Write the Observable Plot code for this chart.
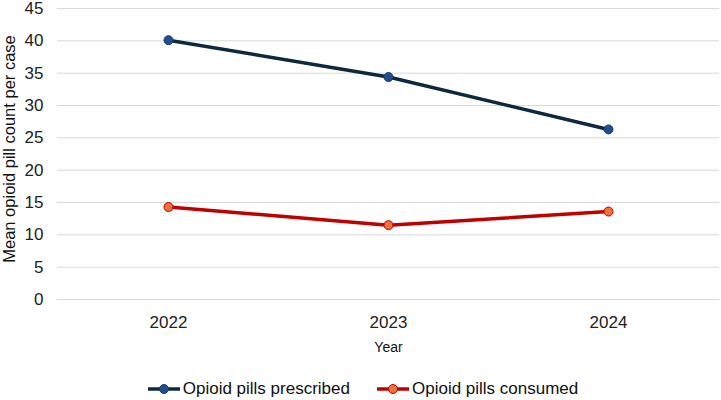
<!DOCTYPE html>
<html>
<head>
<meta charset="utf-8">
<script src="https://cdn.jsdelivr.net/npm/d3@7"></script>
<script src="https://cdn.jsdelivr.net/npm/@observablehq/plot@0.6"></script>
<style>
  body { margin: 0; background: #fff; font-family: "Liberation Sans", Arial, sans-serif; }
  #legend { display: flex; justify-content: center; gap: 26px; font-size: 17px; color: #111; height: 35px; align-items: center; margin-top: 6px; padding-left: 4px; }
  .item { display: flex; align-items: center; gap: 2px; }
</style>
</head>
<body>
<div id="chart"></div>
<div id="legend"></div>
<script>
const years = ["2022", "2023", "2024"];
const prescribed = [40.1, 34.4, 26.3];
const consumed = [14.3, 11.5, 13.6];
const seriesNames = ["Opioid pills prescribed", "Opioid pills consumed"];
const lineColors = ["#0e2841", "#c00000"];
const dotFills = ["#1f4e8c", "#f0703a"];
const dotStrokes = ["#1a3a6a", "#c00000"];
const yTicks = [0, 5, 10, 15, 20, 25, 30, 35, 40, 45];
const yTitle = "Mean opioid pill count per case";
const xTitle = "Year";

const data = [];
years.forEach((y, i) => {
  data.push({year: y, value: prescribed[i], series: seriesNames[0]});
  data.push({year: y, value: consumed[i], series: seriesNames[1]});
});

const chart = Plot.plot({
  width: 721,
  height: 365,
  marginLeft: 57,
  marginRight: 2,
  marginTop: 8,
  marginBottom: 66,
  style: {fontFamily: "Liberation Sans, Arial, sans-serif", fontSize: "16px", color: "#222", overflow: "visible"},
  x: {type: "point", domain: years, padding: 0.5},
  y: {domain: [0, 45], ticks: yTicks},
  color: {domain: seriesNames, range: lineColors},
  marks: [
    Plot.gridY(yTicks, {stroke: "#d9d9d9", strokeOpacity: 1, strokeWidth: 1}),
    Plot.axisY(yTicks, {tickSize: 0, tickPadding: 14, fontSize: 17, label: null}),
    Plot.axisX({tickSize: 0, tickPadding: 16, fontSize: 17, label: null}),
    Plot.text([yTitle], {frameAnchor: "left", textAnchor: "middle", lineAnchor: "middle", rotate: -90, dx: -48, dy: -5, fontSize: 16.5, fill: "#111"}),
    Plot.text([xTitle], {frameAnchor: "bottom", lineAnchor: "middle", dy: 48, fontSize: 14, fill: "#111"}),
    Plot.line(data, {x: "year", y: "value", z: "series", stroke: "series", strokeWidth: 3.5}),
    Plot.dot(data, {x: "year", y: "value", r: 4.5, fill: d => dotFills[seriesNames.indexOf(d.series)], stroke: d => dotStrokes[seriesNames.indexOf(d.series)], strokeWidth: 1})
  ]
});
document.getElementById("chart").appendChild(chart);

const legend = document.getElementById("legend");
seriesNames.forEach((name, i) => {
  const item = document.createElement("div");
  item.className = "item";
  item.innerHTML = `<svg width="34" height="12"><line x1="1" y1="6" x2="33" y2="6" stroke="${lineColors[i]}" stroke-width="3.5"/><circle cx="17" cy="6" r="4.5" fill="${dotFills[i]}" stroke="${dotStrokes[i]}" stroke-width="1"/></svg><span>${name}</span>`;
  legend.appendChild(item);
});
</script>
</body>
</html>
